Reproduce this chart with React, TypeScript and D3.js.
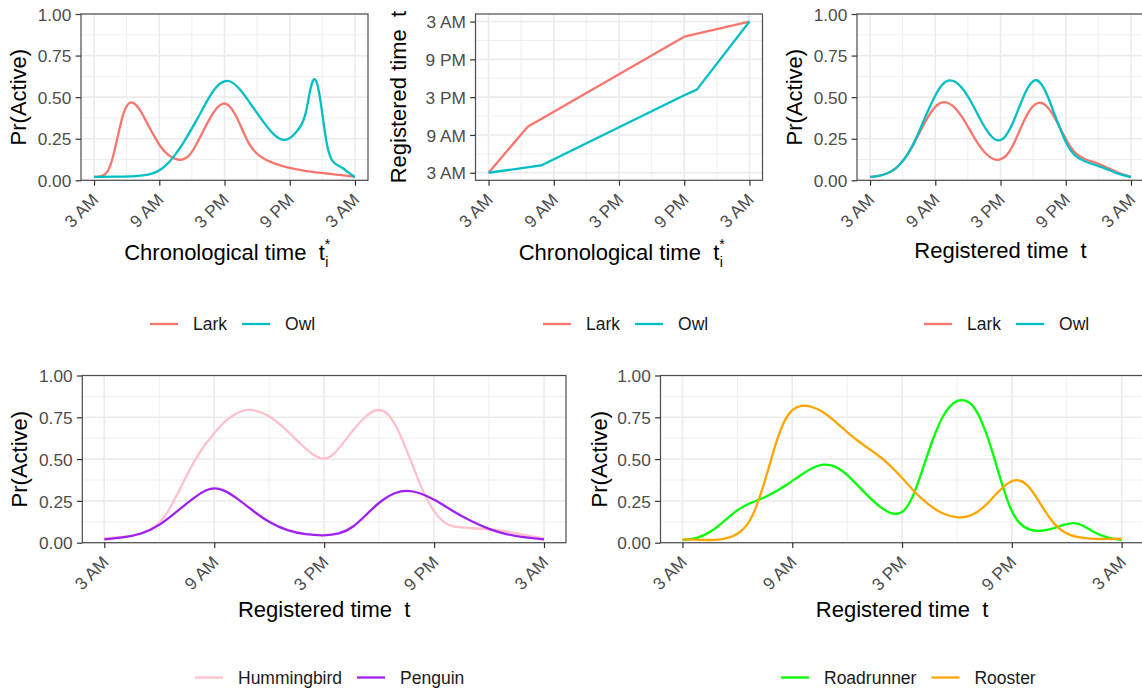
import React, { useEffect, useRef } from "react";
import * as d3 from "d3";

// x positions are hours after 3 AM (0..24)
const TIME_TICKS = [0, 6, 12, 18, 24];
const TIME_LABELS = ["3 AM", "9 AM", "3 PM", "9 PM", "3 AM"];
const TIME_MINOR = [3, 9, 15, 21];
const PR_TICKS = [0, 0.25, 0.5, 0.75, 1];
const PR_LABELS = ["0.00", "0.25", "0.50", "0.75", "1.00"];
const PR_MINOR = [0.125, 0.375, 0.625, 0.875];

// top left: Pr(active) vs chronological time
const larkChrono = [[0, 0.02], [0.6, 0.022], [1.1, 0.035], [1.5, 0.08], [1.9, 0.18], [2.3, 0.3], [2.7, 0.41], [3.1, 0.46], [3.4, 0.472], [3.8, 0.46], [4.3, 0.42], [4.9, 0.34], [5.5, 0.27], [6.1, 0.2], [6.8, 0.15], [7.5, 0.125], [8.1, 0.12], [8.7, 0.14], [9.3, 0.2], [10, 0.29], [10.7, 0.38], [11.3, 0.44], [11.9, 0.468], [12.4, 0.455], [13, 0.4], [13.6, 0.31], [14.2, 0.22], [14.9, 0.16], [15.7, 0.125], [16.6, 0.1], [17.8, 0.075], [19.5, 0.055], [21.5, 0.04], [23, 0.03], [24, 0.02]];
const owlChrono = [[0, 0.02], [2, 0.022], [4, 0.025], [5, 0.032], [5.8, 0.05], [6.5, 0.08], [7.2, 0.13], [8, 0.2], [8.8, 0.29], [9.6, 0.38], [10.4, 0.48], [11.2, 0.565], [12, 0.603], [12.7, 0.595], [13.4, 0.55], [14.1, 0.49], [14.8, 0.42], [15.6, 0.35], [16.4, 0.28], [17.1, 0.245], [17.6, 0.24], [18.1, 0.255], [18.6, 0.29], [19.1, 0.33], [19.5, 0.4], [19.8, 0.52], [20.1, 0.605], [20.35, 0.615], [20.6, 0.57], [20.9, 0.45], [21.2, 0.3], [21.5, 0.18], [21.9, 0.11], [22.4, 0.09], [22.9, 0.075], [23.4, 0.045], [24, 0.02]];

// top middle: registered time vs chronological time (hours after 3 AM)
const larkWarp = [[0, 0], [3.6, 7.3], [18, 21.6], [24, 24]];
const owlWarp = [[0, 0], [4.84, 1.16], [18, 12.3], [19.16, 13.2], [24, 24]];

// top right: Pr(active) vs registered time
const larkReg = [[0, 0.02], [0.8, 0.025], [1.6, 0.04], [2.4, 0.07], [3.1, 0.12], [3.8, 0.19], [4.5, 0.28], [5.2, 0.37], [5.9, 0.44], [6.5, 0.47], [7.1, 0.472], [7.8, 0.44], [8.5, 0.38], [9.2, 0.3], [9.9, 0.22], [10.6, 0.16], [11.3, 0.125], [11.9, 0.12], [12.5, 0.14], [13.1, 0.2], [13.7, 0.29], [14.3, 0.38], [14.9, 0.445], [15.5, 0.472], [16.1, 0.46], [16.7, 0.41], [17.3, 0.34], [17.9, 0.26], [18.5, 0.19], [19.1, 0.15], [19.8, 0.125], [20.6, 0.11], [21.4, 0.09], [22.2, 0.065], [23, 0.04], [24, 0.02]];
const owlReg = [[0, 0.02], [0.8, 0.025], [1.6, 0.04], [2.4, 0.07], [3.1, 0.12], [3.8, 0.19], [4.5, 0.29], [5.2, 0.4], [5.9, 0.5], [6.6, 0.58], [7.3, 0.608], [8, 0.59], [8.7, 0.54], [9.4, 0.46], [10.1, 0.37], [10.8, 0.29], [11.4, 0.245], [11.9, 0.235], [12.4, 0.255], [13, 0.32], [13.6, 0.42], [14.2, 0.52], [14.8, 0.59], [15.3, 0.61], [15.8, 0.58], [16.4, 0.5], [17, 0.39], [17.6, 0.29], [18.2, 0.2], [18.8, 0.15], [19.5, 0.12], [20.3, 0.1], [21.1, 0.085], [21.9, 0.065], [22.7, 0.042], [23.4, 0.028], [24, 0.02]];

// bottom left
const hummingbird = [[0, 0.026], [1, 0.032], [2, 0.05], [2.8, 0.09], [3.5, 0.18], [4.3, 0.36], [5.1, 0.53], [6, 0.66], [6.8, 0.75], [7.5, 0.792], [8.1, 0.798], [8.9, 0.77], [9.8, 0.69], [10.8, 0.58], [11.5, 0.515], [12, 0.495], [12.5, 0.52], [13.2, 0.62], [14, 0.73], [14.6, 0.788], [15.1, 0.8], [15.6, 0.765], [16.2, 0.64], [16.8, 0.47], [17.4, 0.3], [18, 0.18], [18.6, 0.11], [19.3, 0.09], [20.3, 0.085], [21.3, 0.08], [22.3, 0.06], [23.2, 0.04], [24, 0.026]];
const penguin = [[0, 0.02], [1, 0.03], [2, 0.05], [3, 0.1], [4, 0.19], [5, 0.28], [5.6, 0.318], [6, 0.328], [6.5, 0.318], [7.2, 0.27], [8, 0.2], [9, 0.12], [10, 0.07], [11, 0.048], [12, 0.042], [12.8, 0.05], [13.6, 0.09], [14.4, 0.18], [15.2, 0.26], [15.9, 0.302], [16.5, 0.314], [17.2, 0.3], [18, 0.26], [19, 0.19], [20, 0.13], [21, 0.08], [22, 0.048], [23, 0.03], [24, 0.02]];

// bottom right
const roadrunner = [[0, 0.016], [0.8, 0.025], [1.5, 0.06], [2.2, 0.12], [2.9, 0.19], [3.6, 0.235], [4.3, 0.26], [5, 0.3], [5.7, 0.345], [6.4, 0.4], [7.1, 0.45], [7.7, 0.472], [8.3, 0.462], [8.9, 0.42], [9.6, 0.34], [10.3, 0.26], [11, 0.195], [11.6, 0.165], [12.1, 0.18], [12.6, 0.27], [13.1, 0.43], [13.7, 0.63], [14.3, 0.78], [14.9, 0.85], [15.4, 0.858], [15.9, 0.825], [16.4, 0.72], [16.9, 0.56], [17.4, 0.37], [17.9, 0.2], [18.4, 0.11], [19, 0.072], [19.6, 0.068], [20.3, 0.085], [20.9, 0.11], [21.4, 0.122], [21.9, 0.105], [22.5, 0.06], [23.2, 0.028], [24, 0.016]];
const rooster = [[0, 0.02], [1, 0.016], [1.8, 0.016], [2.5, 0.025], [3.1, 0.055], [3.6, 0.11], [4.0, 0.2], [4.4, 0.33], [4.8, 0.48], [5.2, 0.63], [5.6, 0.74], [6, 0.8], [6.5, 0.824], [7, 0.818], [7.6, 0.79], [8.2, 0.74], [9, 0.66], [9.8, 0.59], [10.5, 0.54], [11.2, 0.48], [12, 0.39], [12.7, 0.3], [13.4, 0.23], [14.2, 0.17], [15.1, 0.145], [15.8, 0.16], [16.5, 0.21], [17.2, 0.3], [17.8, 0.362], [18.3, 0.382], [18.8, 0.355], [19.3, 0.28], [19.8, 0.19], [20.3, 0.11], [20.9, 0.055], [21.6, 0.03], [22.5, 0.022], [23.3, 0.022], [24, 0.024]];

const LARK = "#F8766D";
const OWL = "#00BFC4";
const FONT = "'Liberation Sans', Arial, Helvetica, sans-serif";
const TICK_SIZE = 17.3;
const TITLE_SIZE = 22;

const drawPanel = (svg, p) => {
  // 5% expansion on the time axes, none on Pr(Active)
  const x = d3.scaleLinear().domain([-1.2, 25.2]).range([p.left, p.right]);
  const y = p.timeY
    ? d3.scaleLinear().domain([-1.2, 25.2]).range([p.bottom, p.top])
    : d3.scaleLinear().domain([0, 1]).range([p.bottom, p.top]);
  const yTicks = p.timeY ? TIME_TICKS : PR_TICKS;
  const yLabels = p.timeY ? TIME_LABELS : PR_LABELS;
  const yMinor = p.timeY ? TIME_MINOR : PR_MINOR;

  const g = svg.append("g");

  // grid
  const grid = g.append("g").attr("stroke", "#EBEBEB");
  grid.selectAll(".xmin").data(TIME_MINOR).join("line")
    .attr("x1", (d) => x(d)).attr("x2", (d) => x(d))
    .attr("y1", p.top).attr("y2", p.bottom).attr("stroke-width", 0.8);
  grid.selectAll(".ymin").data(yMinor).join("line")
    .attr("x1", p.left).attr("x2", p.right)
    .attr("y1", (d) => y(d)).attr("y2", (d) => y(d)).attr("stroke-width", 0.8);
  grid.selectAll(".xmaj").data(TIME_TICKS).join("line")
    .attr("x1", (d) => x(d)).attr("x2", (d) => x(d))
    .attr("y1", p.top).attr("y2", p.bottom).attr("stroke-width", 1.6);
  grid.selectAll(".ymaj").data(yTicks).join("line")
    .attr("x1", p.left).attr("x2", p.right)
    .attr("y1", (d) => y(d)).attr("y2", (d) => y(d)).attr("stroke-width", 1.6);

  // series
  const line = d3.line()
    .x((d) => x(d[0]))
    .y((d) => y(d[1]))
    .curve(p.timeY ? d3.curveLinear : d3.curveBasis);
  p.series.forEach((s) => {
    g.append("path")
      .attr("d", line(s.data))
      .attr("fill", "none")
      .attr("stroke", s.color)
      .attr("stroke-width", 2.3)
      .attr("stroke-linejoin", "round");
  });

  // border
  g.append("rect")
    .attr("x", p.left).attr("y", p.top)
    .attr("width", p.right - p.left).attr("height", p.bottom - p.top)
    .attr("fill", "none").attr("stroke", "#4D4D4D").attr("stroke-width", 1.2);

  // x axis
  const xAxis = g.append("g")
    .attr("transform", `translate(0,${p.bottom})`)
    .call(
      d3.axisBottom(x).tickValues(TIME_TICKS)
        .tickFormat((d, i) => TIME_LABELS[i])
        .tickSize(5.4).tickSizeOuter(0)
    );
  xAxis.select(".domain").remove();
  xAxis.selectAll("line").attr("stroke", "#333").attr("stroke-width", 1.2);
  xAxis.selectAll("text")
    .attr("font-family", FONT).attr("font-size", TICK_SIZE).attr("fill", "#4D4D4D")
    .attr("text-anchor", "end")
    .attr("x", 5).attr("y", 20.5).attr("dy", null)
    .attr("transform", "rotate(-45,5,20.5)");

  // y axis
  const yAxis = g.append("g")
    .attr("transform", `translate(${p.left},0)`)
    .call(
      d3.axisLeft(y).tickValues(yTicks)
        .tickFormat((d, i) => yLabels[i])
        .tickSize(5.4).tickPadding(4.3).tickSizeOuter(0)
    );
  yAxis.select(".domain").remove();
  yAxis.selectAll("line").attr("stroke", "#333").attr("stroke-width", 1.2);
  yAxis.selectAll("text")
    .attr("font-family", FONT).attr("font-size", TICK_SIZE).attr("fill", "#4D4D4D")
    .attr("dy", "0.36em");

  // x title
  const cx = (p.left + p.right) / 2;
  const by = p.bottom + p.xTitleGap;
  const xt = g.append("text")
    .attr("x", cx)
    .attr("y", by)
    .attr("text-anchor", "middle")
    .attr("font-family", FONT).attr("font-size", TITLE_SIZE).attr("fill", "#000")
    .style("white-space", "pre")
    .text(p.chrono ? "Chronological time  t" : "Registered time  t");
  if (p.chrono) {
    // t_i^* : subscript i with the star stacked above it
    const w = xt.node().getComputedTextLength();
    const ex = cx + w / 2;
    g.append("text")
      .attr("x", ex + 0.5).attr("y", by + 7)
      .attr("font-family", FONT).attr("font-size", 14).attr("fill", "#000")
      .text("i");
    g.append("text")
      .attr("x", ex).attr("y", by - 11)
      .attr("font-family", FONT).attr("font-size", 14).attr("fill", "#000")
      .text("*");
  }

  // y title
  const yx = p.left - p.yTitleGap;
  const yc = (p.top + p.bottom) / 2;
  g.append("text")
    .attr("transform", `translate(${yx},${yc}) rotate(-90)`)
    .attr("text-anchor", "middle")
    .attr("font-family", FONT).attr("font-size", TITLE_SIZE).attr("fill", "#000")
    .style("white-space", "pre")
    .text(p.timeY ? "Registered time  t" : "Pr(Active)");

  // legend
  let lx = p.legendX;
  p.series.forEach((s) => {
    g.append("line")
      .attr("x1", lx).attr("x2", lx + 28)
      .attr("y1", p.legendY).attr("y2", p.legendY)
      .attr("stroke", s.color).attr("stroke-width", 2.3);
    const t = g.append("text")
      .attr("x", lx + 43).attr("y", p.legendY).attr("dy", "0.36em")
      .attr("font-family", FONT).attr("font-size", 17.5).attr("fill", "#1A1A1A")
      .text(s.name);
    const w = t.node().getComputedTextLength();
    lx += 43 + w + 15;
  });
};

const App = () => {
  const ref = useRef(null);

  useEffect(() => {
    document.body.style.margin = "0";
    const root = d3.select(ref.current);
    root.selectAll("*").remove();
    const svg = root.append("svg")
      .attr("width", 1142).attr("height", 690)
      .style("display", "block")
      .style("background", "#fff");

    const top = 14, topBottom = 180.3;
    const bTop = 375.5, bBottom = 542.7;

    drawPanel(svg, {
      left: 81, right: 368, top, bottom: topBottom, chrono: true, xTitleGap: 80, yTitleGap: 55,
      legendX: 150, legendY: 324,
      series: [{ name: "Lark", color: LARK, data: larkChrono }, { name: "Owl", color: OWL, data: owlChrono }],
    });
    drawPanel(svg, {
      left: 475.5, right: 762.5, top, bottom: topBottom, chrono: true, timeY: true, xTitleGap: 80, yTitleGap: 70,
      legendX: 543, legendY: 324,
      series: [{ name: "Lark", color: LARK, data: larkWarp }, { name: "Owl", color: OWL, data: owlWarp }],
    });
    drawPanel(svg, {
      left: 857, right: 1144, top, bottom: topBottom, xTitleGap: 78, yTitleGap: 55,
      legendX: 924, legendY: 324,
      series: [{ name: "Lark", color: LARK, data: larkReg }, { name: "Owl", color: OWL, data: owlReg }],
    });
    drawPanel(svg, {
      left: 82.3, right: 566, top: bTop, bottom: bBottom, xTitleGap: 74, yTitleGap: 55,
      legendX: 195, legendY: 677.5,
      series: [{ name: "Hummingbird", color: "#FFC0CB", data: hummingbird }, { name: "Penguin", color: "#A020F0", data: penguin }],
    });
    drawPanel(svg, {
      left: 660.5, right: 1143.6, top: bTop, bottom: bBottom, xTitleGap: 74, yTitleGap: 54,
      legendX: 781, legendY: 677.5,
      series: [{ name: "Roadrunner", color: "#00FF00", data: roadrunner }, { name: "Rooster", color: "#FFA500", data: rooster }],
    });
  }, []);

  return <div ref={ref}></div>;
};

export default App;
